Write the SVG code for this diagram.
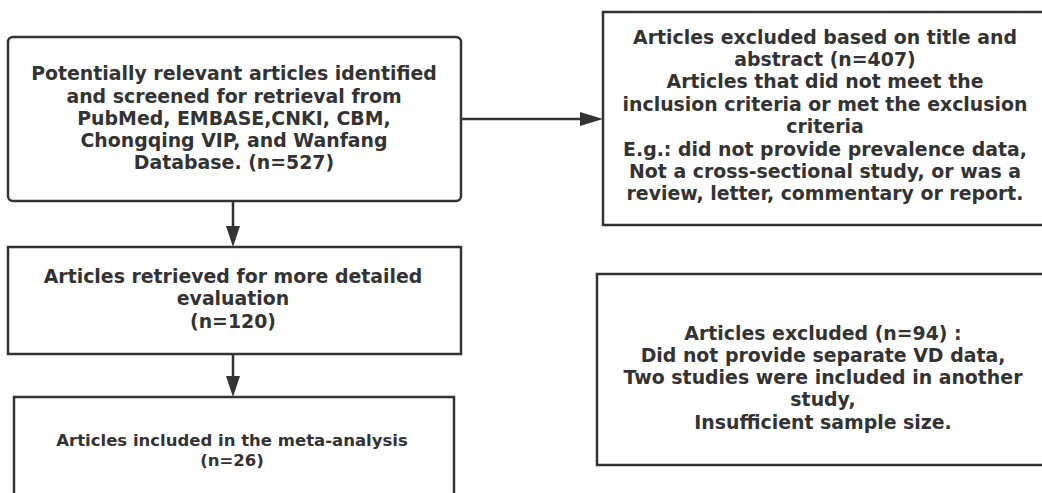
<svg xmlns="http://www.w3.org/2000/svg" width="1042" height="493" viewBox="0 0 1042 493">
<defs>
<style>
.box{fill:#fff;stroke:#333;stroke-width:2.5}
.t{font-family:"DejaVu Sans",sans-serif;font-weight:700;font-size:18.9px;fill:#333;text-anchor:middle}
.s{font-size:16.5px}
.line{stroke:#333;stroke-width:2.5;fill:none}
</style>
</defs>
<rect width="1042" height="493" fill="#fff"/>
<g id="connectors">
<line class="line" x1="461" y1="119" x2="590" y2="119"/>
<path d="M580,112 L603,119 L580,126 Z" fill="#333"/>
<line class="line" x1="233" y1="201" x2="233" y2="235"/>
<path d="M226,226 L233,247 L240,226 Z" fill="#333"/>
<line class="line" x1="233" y1="354" x2="233" y2="385"/>
<path d="M226,376 L233,397 L240,376 Z" fill="#333"/>
</g>
<g id="n1">
<rect class="box" x="8" y="37" width="453" height="164" rx="5"/>
<text class="t" x="234" y="80">Potentially relevant articles identified</text>
<text class="t" x="234" y="102.5">and screened for retrieval from</text>
<text class="t" x="234" y="124.5">PubMed, EMBASE,CNKI, CBM,</text>
<text class="t" x="234" y="146.5">Chongqing VIP, and Wanfang</text>
<text class="t" x="234" y="169">Database. (n=527)</text>
</g>
<g id="n2">
<rect class="box" x="603" y="12" width="460" height="213"/>
<text class="t" x="825" y="44">Articles excluded based on title and</text>
<text class="t" x="825" y="66">abstract (n=407)</text>
<text class="t" x="825" y="88">Articles that did not meet the</text>
<text class="t" x="825" y="110.5">inclusion criteria or met the exclusion</text>
<text class="t" x="825" y="132.5">criteria</text>
<text class="t" x="825" y="155.5">E.g.: did not provide prevalence data,</text>
<text class="t" x="825" y="177.5">Not a cross-sectional study, or was a</text>
<text class="t" x="825" y="199.5">review, letter, commentary or report.</text>
</g>
<g id="n3">
<rect class="box" x="8" y="247" width="453" height="107"/>
<text class="t" x="233" y="283">Articles retrieved for more detailed</text>
<text class="t" x="233" y="305">evaluation</text>
<text class="t" x="233" y="327.5">(n=120)</text>
</g>
<g id="n4">
<rect class="box" x="597" y="274" width="460" height="191"/>
<text class="t" x="823" y="340">Articles excluded (n=94) :</text>
<text class="t" x="823" y="362">Did not provide separate VD data,</text>
<text class="t" x="823" y="384">Two studies were included in another</text>
<text class="t" x="823" y="406">study,</text>
<text class="t" x="823" y="428.5">Insufficient sample size.</text>
</g>
<g id="n5">
<rect class="box" x="14" y="397" width="440" height="110"/>
<text class="t s" x="232" y="446">Articles included in the meta-analysis</text>
<text class="t s" x="232" y="465.5">(n=26)</text>
</g>
</svg>
